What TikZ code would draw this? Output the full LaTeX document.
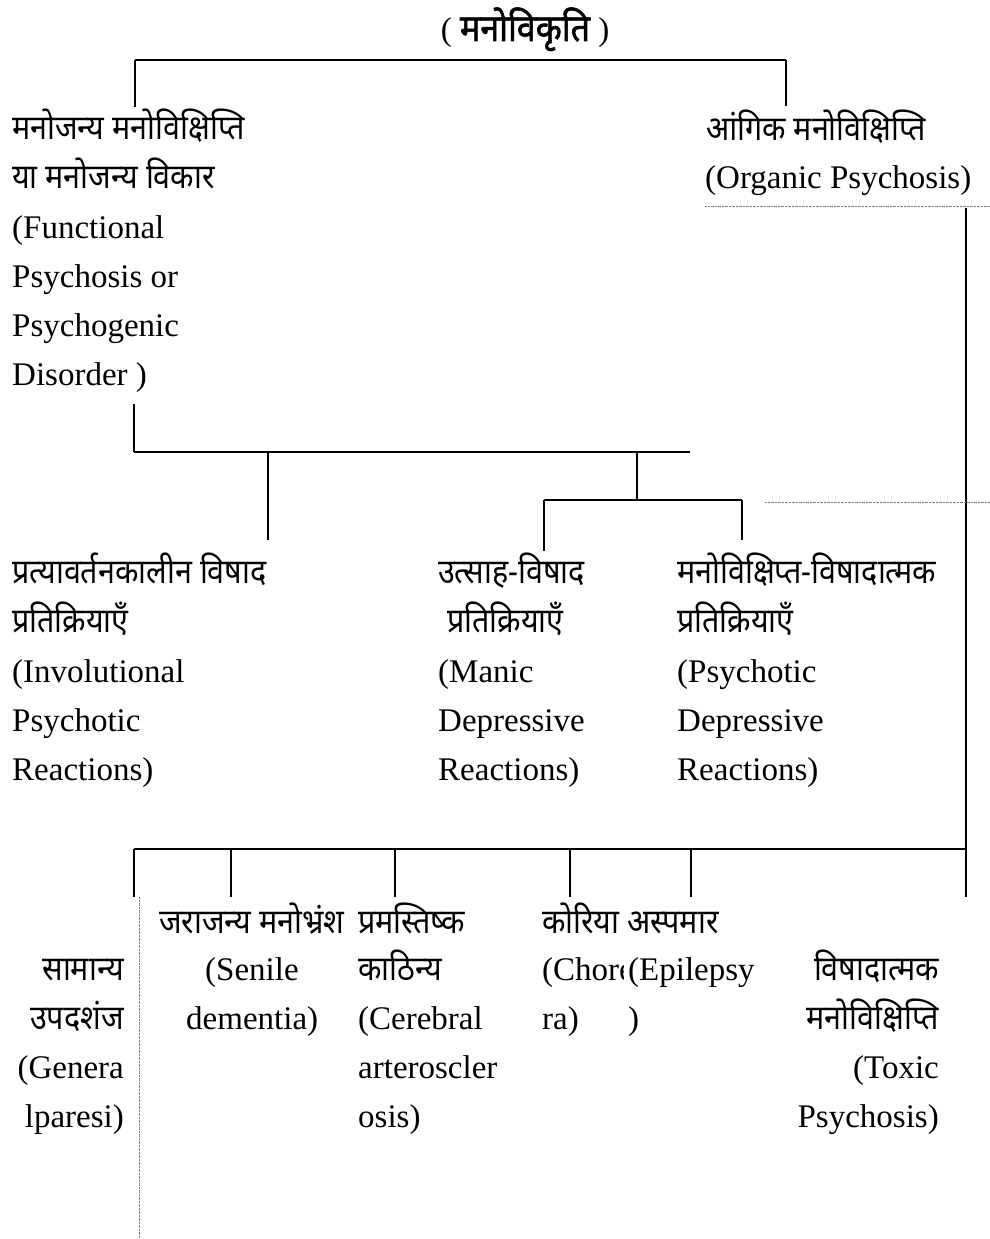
\documentclass[tikz,border=0pt]{standalone}
\usepackage{fontspec}
\usepackage{graphicx}
\setmainfont{Liberation Serif}
\newfontfamily\deva[Script=Devanagari]{Noto Sans}
\newfontfamily\devab[Script=Devanagari,FakeBold=1.6]{Noto Sans}
\newcommand\dv[1]{\scalebox{1}[1.12]{\deva\fontsize{30.5}{40}\selectfont #1}}
\begin{document}
\begin{tikzpicture}[x=1pt,y=-1pt,
  lat/.style={inner sep=0pt, anchor=base west, font=\fontsize{33}{40}\selectfont},
  latr/.style={lat, anchor=base east},
  dev/.style={inner sep=0pt, anchor=base west},
  devr/.style={dev, anchor=base east},
  conn/.style={line width=1.3pt},
  bar/.style={line width=2.2pt},
  dots/.style={line width=0.7pt, gray, dash pattern=on 0.7pt off 0.7pt}]
\useasboundingbox (0,0) rectangle (990,1239);
\fill[white] (0,0) rectangle (990,1239);

% title
\node[inner sep=0pt, anchor=base] (title) at (525,41) {\fontsize{33}{40}\selectfont(~\scalebox{1}[1.1]{\devab\fontsize{34}{40}\selectfont मनोविकृति}~)};

% left branch block
\node[dev] (f1) at (12,139) {\dv{मनोजन्य मनोविक्षिप्ति}};
\node[dev] (f2) at (12,188) {\dv{या मनोजन्य विकार}};
\node[lat] (f3) at (12,238) {(Functional};
\node[lat] (f4) at (12,287) {Psychosis or};
\node[lat] (f5) at (12,336) {Psychogenic};
\node[lat] (f6) at (12,385) {Disorder )};

% right branch block
\node[dev] (o1) at (706,140) {\dv{आंगिक मनोविक्षिप्ति}};
\node[lat] (o2) at (705,188) {(Organic Psychosis)};

% second level
\node[dev] (i1) at (12,583) {\dv{प्रत्यावर्तनकालीन विषाद}};
\node[dev] (i2) at (12,632) {\dv{प्रतिक्रियाएँ}};
\node[lat] (i3) at (12,682) {(Involutional};
\node[lat] (i4) at (12,731) {Psychotic};
\node[lat] (i5) at (12,780) {Reactions)};

\node[dev] (m1) at (438,583) {\dv{उत्साह-विषाद}};
\node[dev] (m2) at (447,632) {\dv{प्रतिक्रियाएँ}};
\node[lat] (m3) at (438,682) {(Manic};
\node[lat] (m4) at (438,731) {Depressive};
\node[lat] (m5) at (438,780) {Reactions)};

\node[dev] (p1) at (677,583) {\dv{मनोविक्षिप्त-विषादात्मक}};
\node[dev] (p2) at (677,632) {\dv{प्रतिक्रियाएँ}};
\node[lat] (p3) at (677,682) {(Psychotic};
\node[lat] (p4) at (677,731) {Depressive};
\node[lat] (p5) at (677,780) {Reactions)};

% bottom level
\node[devr] (g1) at (124,980) {\dv{सामान्य}};
\node[devr] (g2) at (124,1029) {\dv{उपदशंज}};
\node[latr] (g3) at (124,1078) {(Genera};
\node[latr] (g4) at (124,1127) {lparesi)};

\node[dev] (s1) at (159,933) {\dv{जराजन्य मनोभ्रंश}};
\node[lat] (s2) at (205,980) {(Senile};
\node[lat] (s3) at (186,1029) {dementia)};

\node[dev] (c1) at (358,933) {\dv{प्रमस्तिष्क}};
\node[dev] (c2) at (358,980) {\dv{काठिन्य}};
\node[lat] (c3) at (358,1029) {(Cerebral};
\node[lat] (c4) at (358,1078) {arteroscler};
\node[lat] (c5) at (358,1127) {osis)};

\node[dev] (k1) at (542,933) {\dv{कोरिया अस्पमार}};
\begin{scope}
\clip (530,945) rectangle (623,1000);
\node[lat] (k2) at (542,980) {(Chore};
\end{scope}
\node[lat] (k3) at (542,1029) {ra)};

\node[lat] (e1) at (628,980) {(Epilepsy};
\node[lat] (e2) at (628,1029) {)};

\node[devr] (t1) at (939,980) {\dv{विषादात्मक}};
\node[devr] (t2) at (939,1029) {\dv{मनोविक्षिप्ति}};
\node[latr] (t3) at (939,1078) {(Toxic};
\node[latr] (t4) at (939,1127) {Psychosis)};

% junction coordinates
\coordinate (aL) at (135,60);  \coordinate (aR) at (786,60);
\coordinate (aLe) at (135,107); \coordinate (aRe) at (786,106);
\coordinate (bT) at (134,404); \coordinate (bL) at (134,452); \coordinate (bR) at (690,452);
\coordinate (bI) at (268,452); \coordinate (bIe) at (268,540);
\coordinate (bM) at (637,452); \coordinate (cM) at (637,500);
\coordinate (cL) at (544,500); \coordinate (cR) at (742,500);
\coordinate (cLe) at (544,551); \coordinate (cRe) at (742,540);
\coordinate (vT) at (966,208); \coordinate (vB) at (966,849); \coordinate (vE) at (966,897);
\coordinate (dL) at (134,849);
\coordinate (dLe) at (134,897);
\coordinate (d2) at (231,849); \coordinate (d2e) at (231,897);
\coordinate (d3) at (395,849); \coordinate (d3e) at (395,897);
\coordinate (d4) at (570,849); \coordinate (d4e) at (570,897);
\coordinate (d5) at (691,849); \coordinate (d5e) at (691,897);
\coordinate (h1a) at (705,206); \coordinate (h1b) at (990,206);
\coordinate (h2a) at (765,502); \coordinate (h2b) at (990,502);
\coordinate (va) at (139,897); \coordinate (vb) at (139,1239);

% top bracket
\draw[bar] (aL) -- (aR);
\draw[conn] (aL) -- (aLe);
\draw[conn] (aR) -- (aRe);

% functional psychosis subtree
\draw[conn] (bT) -- (bL);
\draw[bar] (bL) -- (bR);
\draw[conn] (bI) -- (bIe);
\draw[conn] (bM) -- (cM);
\draw[bar] (cL) -- (cR);
\draw[conn] (cL) -- (cLe);
\draw[conn] (cR) -- (cRe);

% organic psychosis subtree
\draw[conn] (vT) -- (vE);
\draw[bar] (dL) -- (vB);
\draw[conn] (dL) -- (dLe);
\draw[conn] (d2) -- (d2e);
\draw[conn] (d3) -- (d3e);
\draw[conn] (d4) -- (d4e);
\draw[conn] (d5) -- (d5e);

% dotted guide lines
\draw[dots] (h1a) -- (h1b);
\draw[dots] (h2a) -- (h2b);
\draw[dots] (va) -- (vb);
\end{tikzpicture}
\end{document}
